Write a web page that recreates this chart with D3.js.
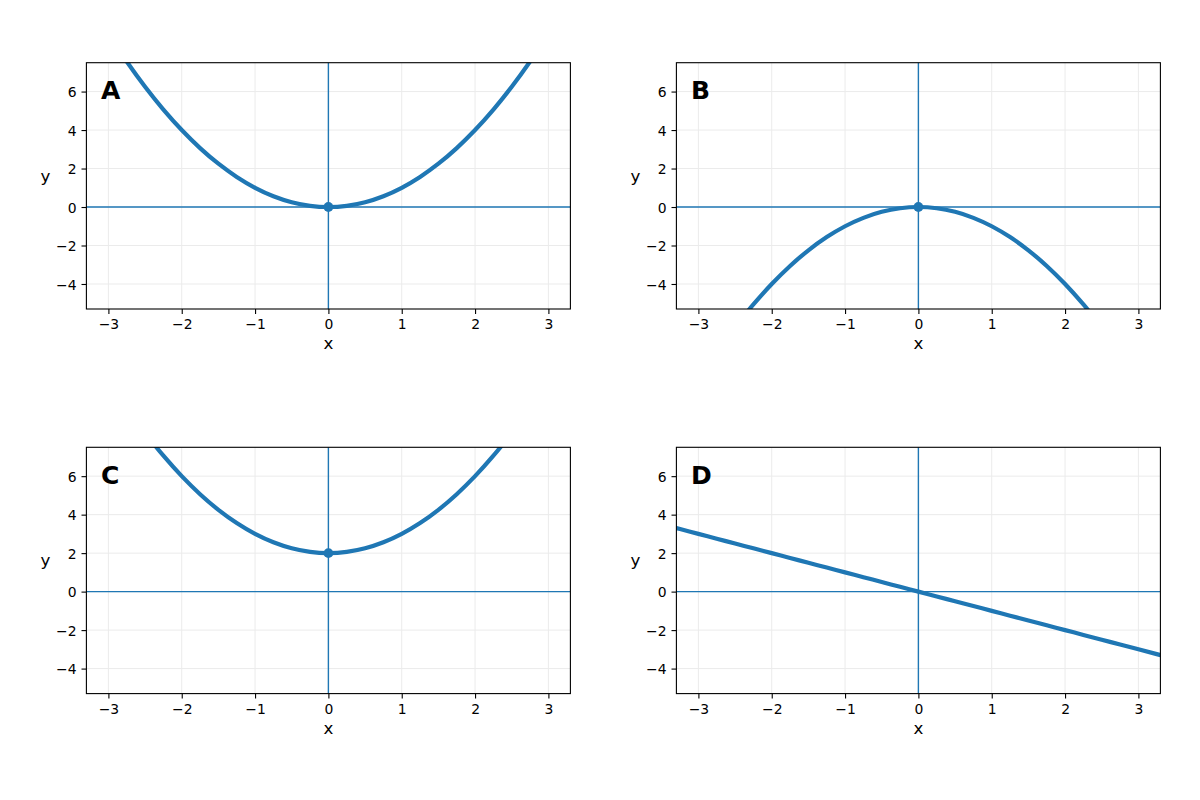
<!DOCTYPE html>
<html>
<head>
<meta charset="utf-8">
<script src="https://cdn.jsdelivr.net/npm/d3@7"></script>
<style>
  html, body { margin: 0; padding: 0; background: #ffffff; }
  svg { display: block; }
</style>
</head>
<body>
<div id="chart"></div>
<script>
// Four small function plots (2 x 2), matplotlib look

// sampled x positions shared by every panel
const xs = [-3.5, -3.25, -3, -2.75, -2.5, -2.25, -2, -1.75, -1.5, -1.25, -1, -0.75, -0.5, -0.25,
  0, 0.25, 0.5, 0.75, 1, 1.25, 1.5, 1.75, 2, 2.25, 2.5, 2.75, 3, 3.25, 3.5];

// panel A: opens upward through the origin
const seriesA = [12.25, 10.5625, 9, 7.5625, 6.25, 5.0625, 4, 3.0625, 2.25, 1.5625, 1, 0.5625, 0.25, 0.0625,
  0, 0.0625, 0.25, 0.5625, 1, 1.5625, 2.25, 3.0625, 4, 5.0625, 6.25, 7.5625, 9, 10.5625, 12.25];

// panel B: opens downward through the origin
const seriesB = [-12.25, -10.5625, -9, -7.5625, -6.25, -5.0625, -4, -3.0625, -2.25, -1.5625, -1, -0.5625, -0.25, -0.0625,
  0, -0.0625, -0.25, -0.5625, -1, -1.5625, -2.25, -3.0625, -4, -5.0625, -6.25, -7.5625, -9, -10.5625, -12.25];

// panel C: opens upward, vertex at y = 2
const seriesC = [14.25, 12.5625, 11, 9.5625, 8.25, 7.0625, 6, 5.0625, 4.25, 3.5625, 3, 2.5625, 2.25, 2.0625,
  2, 2.0625, 2.25, 2.5625, 3, 3.5625, 4.25, 5.0625, 6, 7.0625, 8.25, 9.5625, 11, 12.5625, 14.25];

// panel D: straight falling line through the origin
const seriesD = [3.5, 3.25, 3, 2.75, 2.5, 2.25, 2, 1.75, 1.5, 1.25, 1, 0.75, 0.5, 0.25,
  0, -0.25, -0.5, -0.75, -1, -1.25, -1.5, -1.75, -2, -2.25, -2.5, -2.75, -3, -3.25, -3.5];

const panelLabels = ["A", "B", "C", "D"];
const panelSeries = [seriesA, seriesB, seriesC, seriesD];
// highlighted vertex per panel (null = none)
const panelVertex = [[0, 0], [0, 0], [0, 2], null];

const xDomain = [-3.3, 3.3];
const yDomain = [-5.3, 7.5];
const xTicks = [-3, -2, -1, 0, 1, 2, 3];
const yTicks = [-4, -2, 0, 2, 4, 6];

const blue = "#1f77b4";
const font = '"DejaVu Sans", "Liberation Sans", sans-serif';

const width = 1200;
const height = 800;
const lefts = [86.4, 676.4];
const tops = [62.7, 447.3];
const plotW = 484;
const plotH = 246.3;

const svg = d3.select("#chart")
  .append("svg")
  .attr("width", width)
  .attr("height", height)
  .attr("viewBox", [0, 0, width, height]);

svg.append("rect")
  .attr("width", width)
  .attr("height", height)
  .attr("fill", "#ffffff");

const fmt = function(v) { return v < 0 ? "\u2212" + Math.abs(v) : String(v); };

panelLabels.forEach(function(label, i) {
  const left = lefts[i % 2];
  const top = tops[Math.floor(i / 2)];

  const x = d3.scaleLinear().domain(xDomain).range([0, plotW]);
  const y = d3.scaleLinear().domain(yDomain).range([plotH, 0]);

  const g = svg.append("g")
    .attr("transform", "translate(" + left + "," + top + ")");

  const clipId = "clip-" + i;
  g.append("clipPath")
    .attr("id", clipId)
    .append("rect")
    .attr("width", plotW)
    .attr("height", plotH);

  // light grid at major ticks
  const grid = g.append("g").attr("stroke", "#ebebeb").attr("stroke-width", 1);
  grid.selectAll("line.gx")
    .data(xTicks)
    .join("line")
    .attr("class", "gx")
    .attr("x1", function(d) { return x(d); })
    .attr("x2", function(d) { return x(d); })
    .attr("y1", 0)
    .attr("y2", plotH);
  grid.selectAll("line.gy")
    .data(yTicks)
    .join("line")
    .attr("class", "gy")
    .attr("x1", 0)
    .attr("x2", plotW)
    .attr("y1", function(d) { return y(d); })
    .attr("y2", function(d) { return y(d); });

  const plot = g.append("g").attr("clip-path", "url(#" + clipId + ")");

  const line = d3.line()
    .x(function(d) { return x(d[0]); })
    .y(function(d) { return y(d[1]); })
    .curve(d3.curveCatmullRom);

  plot.append("path")
    .datum(xs.map(function(v, k) { return [v, panelSeries[i][k]]; }))
    .attr("fill", "none")
    .attr("stroke", blue)
    .attr("stroke-width", 4.2)
    .attr("stroke-linecap", "butt")
    .attr("d", line);

  // zero lines drawn above the curve
  plot.append("line")
    .attr("x1", 0).attr("x2", plotW)
    .attr("y1", y(0)).attr("y2", y(0))
    .attr("stroke", blue)
    .attr("stroke-width", 1.4);
  plot.append("line")
    .attr("x1", x(0)).attr("x2", x(0))
    .attr("y1", 0).attr("y2", plotH)
    .attr("stroke", blue)
    .attr("stroke-width", 1.4);

  if (panelVertex[i]) {
    plot.append("circle")
      .attr("cx", x(panelVertex[i][0]))
      .attr("cy", y(panelVertex[i][1]))
      .attr("r", 4.9)
      .attr("fill", blue);
  }

  // axes
  const xAxis = g.append("g")
    .attr("transform", "translate(0," + plotH + ")")
    .call(d3.axisBottom(x).tickValues(xTicks).tickFormat(fmt).tickSizeOuter(0).tickSize(4.9).tickPadding(4.9));
  const yAxis = g.append("g")
    .call(d3.axisLeft(y).tickValues(yTicks).tickFormat(fmt).tickSizeOuter(0).tickSize(4.9).tickPadding(4.9));

  [xAxis, yAxis].forEach(function(ax) {
    ax.select(".domain").remove();
    ax.selectAll(".tick line").attr("stroke", "#000").attr("stroke-width", 1.1);
    ax.selectAll(".tick text")
      .attr("fill", "#000")
      .attr("font-family", font)
      .attr("font-size", 13.9);
  });
  xAxis.selectAll(".tick text").attr("dy", null).attr("y", 20).attr("dominant-baseline", "auto");
  yAxis.selectAll(".tick text").attr("dy", "0.36em");

  // frame
  g.append("rect")
    .attr("width", plotW)
    .attr("height", plotH)
    .attr("fill", "none")
    .attr("stroke", "#000")
    .attr("stroke-width", 1.1);

  // axis titles
  g.append("text")
    .attr("x", plotW / 2)
    .attr("y", plotH + 40.3)
    .attr("text-anchor", "middle")
    .attr("font-family", font)
    .attr("font-size", 16.7)
    .attr("fill", "#000")
    .text("x");
  g.append("text")
    .attr("x", -40.9)
    .attr("y", plotH / 2 - 4)
    .attr("text-anchor", "middle")
    .attr("font-family", font)
    .attr("font-size", 16.7)
    .attr("fill", "#000")
    .text("y");

  // panel letter
  g.append("text")
    .attr("x", 14.6)
    .attr("y", 36.6)
    .attr("font-family", font)
    .attr("font-size", 25)
    .attr("font-weight", "bold")
    .attr("fill", "#000")
    .text(label);
});
</script>
</body>
</html>
